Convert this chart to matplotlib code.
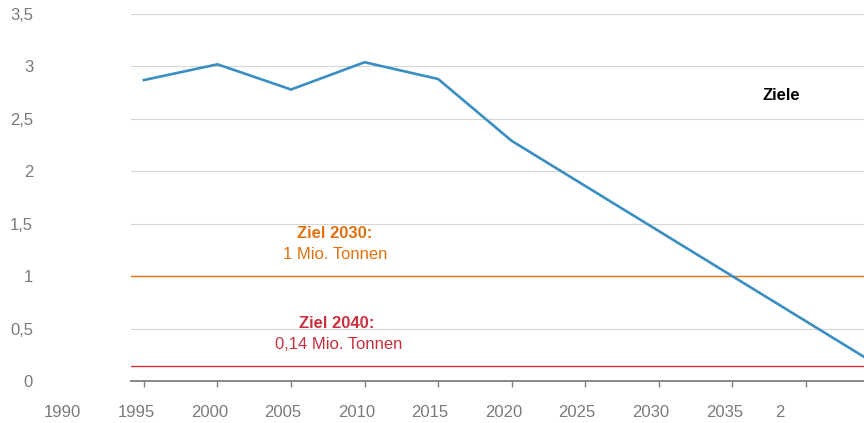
import matplotlib
matplotlib.use("Agg")
import matplotlib.pyplot as plt
import matplotlib.transforms as mtransforms

plt.rcParams['font.family'] = ['Liberation Sans', 'DejaVu Sans']

# Data
years = [1995, 2000, 2005, 2010, 2015, 2020, 2045]
values = [2.87, 3.02, 2.78, 3.04, 2.88, 2.29, 0.14]
target_2030 = 1.0
target_2040 = 0.14
y_ticks = [0, 0.5, 1, 1.5, 2, 2.5, 3, 3.5]
y_ticklabels = ["0", "0,5", "1", "1,5", "2", "2,5", "3", "3,5"]
x_tick_years = [1995, 2000, 2005, 2010, 2015, 2020, 2025, 2030, 2035, 2040]
x_label_years = [1990, 1995, 2000, 2005, 2010, 2015, 2020, 2025, 2030, 2035, 2040]
x_labels = ["1990", "1995", "2000", "2005", "2010", "2015", "2020", "2025", "2030", "2035", "2"]

W, H = 864, 423
fig = plt.figure(figsize=(W / 100, H / 100), dpi=100)
ax = fig.add_axes([131 / W, (H - 381) / H, (W - 131) / W, (381 - 14) / H * 1.0])

grey_txt = "#7a7a7a"
blue = "#3a8ec2"
orange_line = "#e8730c"
orange_txt = "#e2700f"
red_line = "#e0303f"
red_txt = "#c9303e"
fs = 12

ax.set_xlim(1994.12, 2043.95)
ax.set_ylim(0, 3.5)

ax.set_yticks(y_ticks)
ax.set_yticklabels(y_ticklabels)
ax.yaxis.grid(True, color="#d6d6d6", linewidth=0.8, zorder=0)
ax.set_axisbelow(True)
ax.tick_params(axis="y", length=0, pad=70.5, labelsize=fs, labelcolor=grey_txt)
for lab in ax.get_yticklabels():
    lab.set_horizontalalignment("right")

ax.set_xticks(x_tick_years)
ax.set_xticklabels([])
ax.tick_params(axis="x", direction="out", length=4, width=1, color="#7f7f7f")

for s in ["top", "right", "left"]:
    ax.spines[s].set_visible(False)
ax.spines["bottom"].set_color("#7f7f7f")
ax.spines["bottom"].set_linewidth(1.3)

# x labels (manually placed, shifted slightly left of the ticks)
base = ax.get_xaxis_transform()
for yr, lab in zip(x_label_years, x_labels):
    dx = -26 if lab == "2" else -8
    tr = mtransforms.offset_copy(base, fig=fig, x=dx, y=-31, units="dots")
    ax.text(yr, 0, lab, transform=tr, ha="center", va="center",
            fontsize=fs, color=grey_txt, clip_on=False)

# target lines
ax.axhline(target_2030, color=orange_line, linewidth=1.0, zorder=2)
ax.axhline(target_2040, color=red_line, linewidth=1.0, zorder=2)

# main line
ax.plot(years, values, color=blue, linewidth=1.9, zorder=3, solid_joinstyle="miter")

# annotations
ax.text(2007.95, 1.41, "Ziel 2030:", color=orange_txt, fontsize=fs,
        fontweight="bold", ha="center", va="center")
ax.text(2008.0, 1.21, "1 Mio. Tonnen", color=orange_txt, fontsize=fs,
        ha="center", va="center")
ax.text(2008.1, 0.55, "Ziel 2040:", color=red_txt, fontsize=fs,
        fontweight="bold", ha="center", va="center")
ax.text(2008.25, 0.35, "0,14 Mio. Tonnen", color=red_txt, fontsize=fs,
        ha="center", va="center")
ax.text(2038.3, 2.725, "Ziele", color="black", fontsize=fs,
        fontweight="bold", ha="center", va="center")

fig.savefig("out.png", dpi=100)
